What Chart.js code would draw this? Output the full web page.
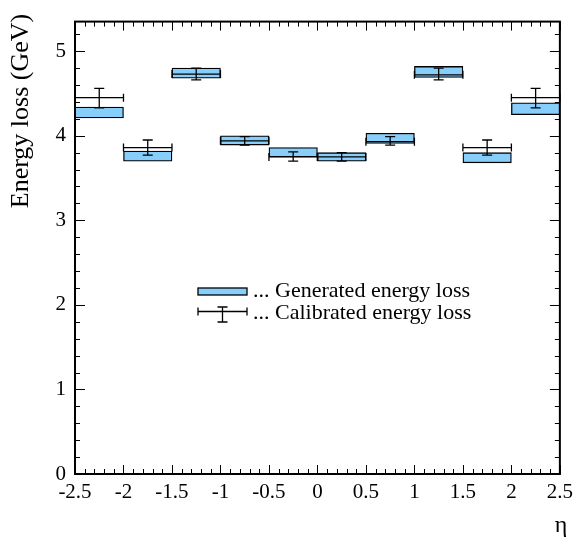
<!DOCTYPE html>
<html>
<head>
<meta charset="utf-8">
<script src="https://cdn.jsdelivr.net/npm/chart.js@4.4.1/dist/chart.umd.min.js"></script>
<style>
  html, body { margin: 0; padding: 0; background: #fff; }
</style>
</head>
<body>
<canvas id="lossChart" width="579" height="547"></canvas>
<script>
// bins in eta (width 0.5)
const binCenters = [-2.25, -1.75, -1.25, -0.75, -0.25, 0.25, 0.75, 1.25, 1.75, 2.25];
const binHalfWidth = 0.25;

// generated energy loss band (low / high edge of the box), GeV
const genLow  = [4.21, 3.70, 4.68, 3.89, 3.75, 3.70, 3.91, 4.69, 3.68, 4.25];
const genHigh = [4.34, 3.82, 4.80, 4.00, 3.86, 3.80, 4.03, 4.82, 3.80, 4.39];

// calibrated energy loss and its error, GeV
const calValue   = [4.45, 3.86, 4.73, 3.94, 3.75, 3.75, 3.93, 4.72, 3.86, 4.45];
const calErrLow  = [4.33, 3.77, 4.66, 3.89, 3.70, 3.70, 3.89, 4.66, 3.77, 4.33];
const calErrHigh = [4.56, 3.95, 4.80, 3.99, 3.81, 3.80, 3.99, 4.80, 3.95, 4.56];

const xTickLabels = ["-2.5", "-2", "-1.5", "-1", "-0.5", "0", "0.5", "1", "1.5", "2", "2.5"];
const yTickLabels = ["0", "1", "2", "3", "4", "5"];
const legendLabels = ["... Generated energy loss", "... Calibrated energy loss"];
const yTitle = "Energy loss (GeV)";
const xTitle = "η";

const serif = "'Liberation Serif', 'Times New Roman', serif";
const boxBlue = "#87cefa";

// frame with inward ticks, error bars, legend, titles
const rootStyle = {
  id: "rootStyle",
  afterDatasetsDraw(chart) {
    const { ctx, scales: { x, y } } = chart;
    ctx.save();
    ctx.strokeStyle = "#000";
    ctx.lineWidth = 1.3;
    calValue.forEach((v, i) => {
      const xl = x.getPixelForValue(binCenters[i] - binHalfWidth);
      const xr = x.getPixelForValue(binCenters[i] + binHalfWidth);
      const xc = x.getPixelForValue(binCenters[i]);
      const yv = y.getPixelForValue(v);
      const ylo = y.getPixelForValue(calErrLow[i]);
      const yhi = y.getPixelForValue(calErrHigh[i]);
      ctx.beginPath();
      ctx.moveTo(xl, yv); ctx.lineTo(xr, yv);
      ctx.moveTo(xl, yv - 4); ctx.lineTo(xl, yv + 4);
      ctx.moveTo(xr, yv - 4); ctx.lineTo(xr, yv + 4);
      ctx.moveTo(xc, ylo); ctx.lineTo(xc, yhi);
      ctx.moveTo(xc - 5, ylo); ctx.lineTo(xc + 5, ylo);
      ctx.moveTo(xc - 5, yhi); ctx.lineTo(xc + 5, yhi);
      ctx.stroke();
    });
    ctx.restore();
  },
  afterDraw(chart) {
    const { ctx, chartArea: a, scales: { x, y } } = chart;
    ctx.save();
    ctx.strokeStyle = "#000";

    // ticks pointing inwards on all four sides
    ctx.lineWidth = 1;
    ctx.beginPath();
    for (let k = 0; k <= 50; k++) {
      const v = -2.5 + k * 0.1;
      const px = Math.round(x.getPixelForValue(v)) + 0.5;
      const len = k % 5 === 0 ? 9 : 5;
      ctx.moveTo(px, a.bottom); ctx.lineTo(px, a.bottom - len);
      ctx.moveTo(px, a.top); ctx.lineTo(px, a.top + len);
    }
    for (let k = 0; k * 0.2 <= y.max; k++) {
      const v = k * 0.2;
      const py = Math.round(y.getPixelForValue(v)) + 0.5;
      const len = k % 5 === 0 ? 10 : 5;
      ctx.moveTo(a.left, py); ctx.lineTo(a.left + len, py);
      ctx.moveTo(a.right, py); ctx.lineTo(a.right - len, py);
    }
    ctx.stroke();

    ctx.lineWidth = 2;
    ctx.strokeRect(a.left, a.top, a.right - a.left, a.bottom - a.top);

    // legend
    const lx0 = 198, lx1 = 247;
    ctx.fillStyle = boxBlue;
    ctx.fillRect(lx0, 288, lx1 - lx0, 7);
    ctx.lineWidth = 1.3;
    ctx.strokeRect(lx0, 288, lx1 - lx0, 7);
    const ly = 311.5, lxc = (lx0 + lx1) / 2;
    ctx.beginPath();
    ctx.moveTo(lx0, ly); ctx.lineTo(lx1, ly);
    ctx.moveTo(lx0, ly - 4); ctx.lineTo(lx0, ly + 4);
    ctx.moveTo(lx1, ly - 4); ctx.lineTo(lx1, ly + 4);
    ctx.moveTo(lxc, 307); ctx.lineTo(lxc, 322);
    ctx.moveTo(lxc - 5, 307); ctx.lineTo(lxc + 5, 307);
    ctx.moveTo(lxc - 5, 322); ctx.lineTo(lxc + 5, 322);
    ctx.stroke();

    ctx.fillStyle = "#000";
    ctx.font = "22px " + serif;
    ctx.textAlign = "left";
    ctx.textBaseline = "middle";
    ctx.fillText(legendLabels[0], 253, 291);
    ctx.fillText(legendLabels[1], 253, 313);

    // axis titles
    ctx.font = "24px " + serif;
    ctx.textAlign = "center";
    ctx.fillText(xTitle, 561, 526);

    ctx.save();
    ctx.translate(21, 111);
    ctx.rotate(-Math.PI / 2);
    ctx.font = "26px " + serif;
    ctx.fillText(yTitle, 0, 0);
    ctx.restore();

    ctx.restore();
  }
};

new Chart(document.getElementById("lossChart"), {
  type: "bar",
  data: {
    datasets: [{
      label: legendLabels[0],
      data: binCenters.map((c, i) => ({ x: c, y: [genLow[i], genHigh[i]] })),
      backgroundColor: boxBlue,
      borderColor: "#000",
      borderWidth: 1.3,
      borderSkipped: false,
      barPercentage: 1,
      categoryPercentage: 1
    }]
  },
  options: {
    responsive: false,
    animation: false,
    devicePixelRatio: 1,
    layout: { padding: { left: 0, top: 18, right: 16, bottom: 0 } },
    plugins: {
      legend: { display: false },
      tooltip: { enabled: false }
    },
    scales: {
      x: {
        type: "linear",
        min: -2.5,
        max: 2.5,
        offset: false,
        grid: { display: false, drawTicks: false, offset: false },
        border: { display: false },
        afterFit: s => { s.height = 73; },
        ticks: {
          stepSize: 0.5,
          padding: 6,
          color: "#000",
          font: { family: serif, size: 21 },
          maxRotation: 0,
          autoSkip: false,
          callback: (v, i) => xTickLabels[i]
        }
      },
      y: {
        min: 0,
        max: 5.35,
        grid: { display: false, drawTicks: false },
        border: { display: false },
        afterFit: s => { s.width = 75; },
        ticks: {
          stepSize: 1,
          includeBounds: false,
          padding: 9,
          color: "#000",
          font: { family: serif, size: 21 },
          callback: (v, i) => yTickLabels[i]
        }
      }
    }
  },
  plugins: [rootStyle]
});
</script>
</body>
</html>
